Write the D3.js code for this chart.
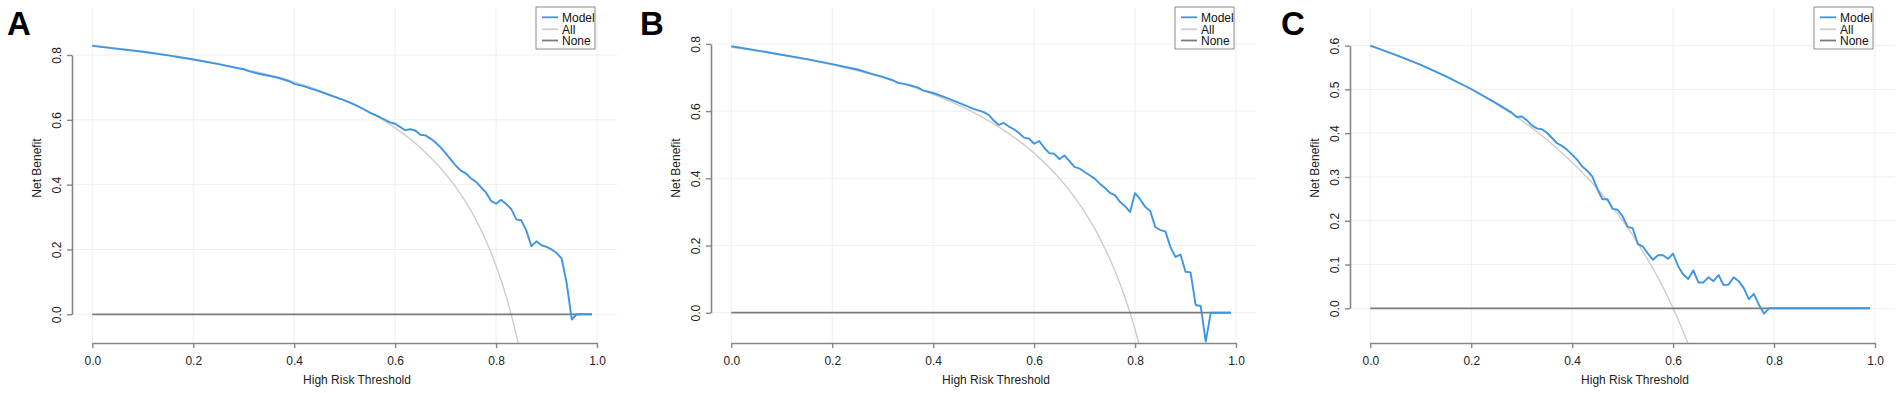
<!DOCTYPE html>
<html>
<head>
<meta charset="utf-8">
<script src="https://cdn.jsdelivr.net/npm/d3@7"></script>
<style>
  body { margin: 0; background: #fff; }
  svg { display: block; font-family: "Liberation Sans", Arial, sans-serif; }
</style>
</head>
<body>
<svg id="chart" width="1902" height="393"></svg>
<script>
// ---- data ----
const xTicks = [0, 0.2, 0.4, 0.6, 0.8, 1.0];
const yTicksAB = [0, 0.2, 0.4, 0.6, 0.8];
const yTicksC = [0, 0.1, 0.2, 0.3, 0.4, 0.5, 0.6];
const legendLabels = ["Model", "All", "None"];
const panelLabels = ["A", "B", "C"];

// treat none: flat line at 0
const noneThr = [0, 0.99];
const noneVals = [0, 0];

// panel A
const thrA = [0, 0.05, 0.1, 0.15, 0.2, 0.25, 0.28, 0.3, 0.31, 0.33, 0.35, 0.37, 0.39, 0.4, 0.42, 0.45, 0.48, 0.5, 0.52, 0.54, 0.55, 0.57, 0.59,
  0.6, 0.61, 0.62, 0.63, 0.64, 0.65, 0.66, 0.67, 0.68, 0.69, 0.7, 0.71, 0.72, 0.73, 0.74, 0.75, 0.76, 0.77, 0.78, 0.79,
  0.8, 0.81, 0.82, 0.83, 0.84, 0.85, 0.86, 0.87, 0.88, 0.89, 0.9, 0.91, 0.92, 0.93, 0.94, 0.95, 0.96, 0.97, 0.98, 0.99];
const modelA = [0.828, 0.819, 0.810, 0.799, 0.786, 0.772, 0.762, 0.756, 0.750, 0.742, 0.736, 0.729, 0.719, 0.711, 0.703, 0.688, 0.671, 0.660, 0.647, 0.631, 0.622, 0.608, 0.592,
  0.588, 0.578, 0.568, 0.571, 0.567, 0.554, 0.552, 0.542, 0.530, 0.515, 0.497, 0.478, 0.459, 0.443, 0.435, 0.420, 0.409, 0.392, 0.376, 0.350,
  0.341, 0.353, 0.340, 0.325, 0.293, 0.290, 0.258, 0.210, 0.225, 0.213, 0.208, 0.200, 0.189, 0.172, 0.095, -0.016, 0, 0, 0, 0];
const allThrA = [0, 0.1, 0.2, 0.3, 0.4, 0.45, 0.5, 0.55, 0.6, 0.65, 0.7, 0.72, 0.74, 0.76, 0.78, 0.8, 0.82, 0.84, 0.86];
const allA = [0.83, 0.811, 0.788, 0.757, 0.717, 0.691, 0.66, 0.622, 0.575, 0.514, 0.433, 0.393, 0.346, 0.292, 0.227, 0.15, 0.056, -0.063, -0.214];

// panel B
const thrB = [0, 0.05, 0.1, 0.15, 0.2, 0.25, 0.28, 0.3, 0.32, 0.33, 0.35, 0.37, 0.38, 0.4, 0.42, 0.45, 0.48,
  0.5, 0.51, 0.52, 0.53, 0.54, 0.55, 0.56, 0.57, 0.58, 0.59, 0.6, 0.61, 0.62, 0.63, 0.64, 0.65, 0.66, 0.67, 0.68, 0.69,
  0.7, 0.71, 0.72, 0.73, 0.74, 0.75, 0.76, 0.77, 0.78, 0.79, 0.8, 0.81, 0.82, 0.83, 0.84, 0.85, 0.86, 0.87, 0.88, 0.89,
  0.9, 0.91, 0.92, 0.93, 0.94, 0.95, 0.96, 0.97, 0.98, 0.99];
const modelB = [0.793, 0.781, 0.768, 0.755, 0.740, 0.724, 0.710, 0.702, 0.692, 0.684, 0.679, 0.670, 0.662, 0.654, 0.643, 0.625, 0.607,
  0.597, 0.589, 0.572, 0.559, 0.565, 0.554, 0.546, 0.535, 0.521, 0.518, 0.503, 0.511, 0.491, 0.475, 0.473, 0.457, 0.468, 0.451, 0.434, 0.429,
  0.419, 0.409, 0.399, 0.384, 0.372, 0.357, 0.350, 0.330, 0.317, 0.300, 0.356, 0.338, 0.315, 0.303, 0.255, 0.246, 0.242, 0.196, 0.166, 0.173,
  0.122, 0.120, 0.023, 0.020, -0.086, 0, 0, 0, 0, 0];
const allThrB = [0, 0.1, 0.2, 0.3, 0.4, 0.45, 0.5, 0.55, 0.6, 0.65, 0.68, 0.7, 0.72, 0.74, 0.76, 0.78, 0.8, 0.82];
const allB = [0.79, 0.767, 0.738, 0.70, 0.65, 0.618, 0.58, 0.533, 0.475, 0.40, 0.344, 0.30, 0.25, 0.192, 0.125, 0.046, -0.05, -0.167];

// panel C
const thrC = [0, 0.05, 0.1, 0.15, 0.2, 0.25, 0.28,
  0.29, 0.3, 0.31, 0.32, 0.33, 0.34, 0.35, 0.36, 0.37, 0.38, 0.39, 0.4, 0.41, 0.42, 0.43, 0.44, 0.45, 0.46, 0.47, 0.48, 0.49,
  0.5, 0.51, 0.52, 0.53, 0.54, 0.55, 0.56, 0.57, 0.58, 0.59, 0.6, 0.61, 0.62, 0.63, 0.64, 0.65, 0.66, 0.67, 0.68, 0.69,
  0.7, 0.71, 0.72, 0.73, 0.74, 0.75, 0.76, 0.77, 0.78, 0.79, 0.8, 0.81, 0.82, 0.83, 0.84, 0.85, 0.86, 0.87, 0.88, 0.89,
  0.9, 0.91, 0.92, 0.93, 0.94, 0.95, 0.96, 0.97, 0.98, 0.99];
const modelC = [0.600, 0.579, 0.556, 0.530, 0.501, 0.468, 0.447,
  0.437, 0.438, 0.430, 0.418, 0.411, 0.409, 0.401, 0.389, 0.377, 0.371, 0.362, 0.351, 0.339, 0.324, 0.314, 0.301, 0.272, 0.249, 0.249, 0.227, 0.225,
  0.210, 0.186, 0.183, 0.147, 0.141, 0.125, 0.111, 0.121, 0.121, 0.113, 0.125, 0.096, 0.077, 0.067, 0.087, 0.059, 0.059, 0.071, 0.062, 0.076,
  0.053, 0.054, 0.071, 0.062, 0.046, 0.021, 0.033, 0.008, -0.012, 0, 0, 0, 0, 0, 0, 0, 0, 0, 0, 0,
  0, 0, 0, 0, 0, 0, 0, 0, 0, 0];
const allThrC = [0, 0.1, 0.2, 0.3, 0.35, 0.4, 0.45, 0.5, 0.52, 0.54, 0.56, 0.58, 0.6, 0.62, 0.64];
const allC = [0.6, 0.556, 0.5, 0.429, 0.385, 0.333, 0.273, 0.2, 0.167, 0.13, 0.091, 0.048, 0, -0.053, -0.111];

// ---- styling / layout ----
const colorModel = "#3f95e3";
const colorAll = "#cdcdcd";
const colorNone = "#7b7b7b";
const colorAxis = "#868686";
const colorGrid = "#efefef";

const panels = [
  {label: panelLabels[0], thr: thrA, model: modelA, allThr: allThrA, all: allA, yTicks: yTicksAB, yDomain: [-0.0886, 0.945], dx: 0, labelX: 7},
  {label: panelLabels[1], thr: thrB, model: modelB, allThr: allThrB, all: allB, yTicks: yTicksAB, yDomain: [-0.0902, 0.907], dx: 639, labelX: 1},
  {label: panelLabels[2], thr: thrC, model: modelC, allThr: allThrC, all: allC, yTicks: yTicksC, yDomain: [-0.0793, 0.686], dx: 1278, labelX: 3}
];

// plot region (same in every panel)
const regionLeft = 72, regionRight = 617, regionTop = 8, regionBottom = 343;

const svg = d3.select("#chart");

panels.forEach((p, i) => {
    const g = svg.append("g").attr("transform", `translate(${p.dx},0)`);

    const x = d3.scaleLinear().domain([0, 1]).range([92.3, 597]);
    const y = d3.scaleLinear().domain(p.yDomain).range([regionBottom, regionTop]);

    // clip
    const clipId = "clip" + i;
    g.append("clipPath").attr("id", clipId)
        .append("rect")
        .attr("x", regionLeft).attr("y", regionTop)
        .attr("width", regionRight - regionLeft).attr("height", regionBottom - regionTop);

    // grid
    g.append("g").selectAll("line").data(xTicks).join("line")
        .attr("x1", d => x(d)).attr("x2", d => x(d))
        .attr("y1", regionTop).attr("y2", regionBottom)
        .attr("stroke", colorGrid).attr("stroke-width", 1);
    g.append("g").selectAll("line").data(p.yTicks).join("line")
        .attr("x1", regionLeft).attr("x2", regionRight)
        .attr("y1", d => y(d)).attr("y2", d => y(d))
        .attr("stroke", colorGrid).attr("stroke-width", 1);

    // lines
    const plot = g.append("g").attr("clip-path", `url(#${clipId})`);
    const allLine = d3.line().x((d, j) => x(p.allThr[j])).y(d => y(d)).curve(d3.curveMonotoneX);
    const stepLine = thr => d3.line().x((d, j) => x(thr[j])).y(d => y(d));

    plot.append("path").datum(p.all)
        .attr("fill", "none").attr("stroke", colorAll).attr("stroke-width", 1.4)
        .attr("d", allLine);
    plot.append("path").datum(noneVals)
        .attr("fill", "none").attr("stroke", colorNone).attr("stroke-width", 1.8)
        .attr("d", stepLine(noneThr));
    plot.append("path").datum(p.model)
        .attr("fill", "none").attr("stroke", colorModel).attr("stroke-width", 1.9)
        .attr("stroke-linejoin", "round")
        .attr("d", stepLine(p.thr));

    // axes (R style: axis line only between first and last tick)
    const xAxis = d3.axisBottom(x).tickValues(xTicks).tickFormat(d3.format(".1f"))
        .tickSize(5).tickSizeOuter(0).tickPadding(8);
    const gx = g.append("g").attr("transform", `translate(0,${regionBottom})`).call(xAxis);

    const yMax = d3.max(p.yTicks);
    const yAxisScale = d3.scaleLinear().domain([0, yMax]).range([y(0), y(yMax)]);
    const yAxis = d3.axisLeft(yAxisScale).tickValues(p.yTicks).tickFormat(d3.format(".1f"))
        .tickSize(5).tickSizeOuter(0);
    const gy = g.append("g").attr("transform", `translate(${regionLeft},0)`).call(yAxis);
    gy.selectAll("text")
        .attr("transform", "rotate(-90)")
        .attr("x", 0).attr("y", -11).attr("dy", null)
        .style("text-anchor", "middle");

    [gx, gy].forEach(a => {
        a.select(".domain").attr("stroke", colorAxis).attr("stroke-width", 1.6);
        a.selectAll(".tick line").attr("stroke", colorAxis).attr("stroke-width", 1.4);
        a.selectAll("text").attr("fill", "#222").style("font-size", "12px")
            .style("font-family", '"Liberation Sans", Arial, sans-serif');
    });

    // axis titles
    g.append("text")
        .attr("transform", "translate(37,168) rotate(-90)")
        .attr("dy", "0.35em")
        .attr("text-anchor", "middle")
        .style("font-size", "12px").attr("fill", "#222")
        .text("Net Benefit");
    g.append("text")
        .attr("x", 357).attr("y", 384)
        .attr("text-anchor", "middle")
        .style("font-size", "12px").attr("fill", "#222")
        .text("High Risk Threshold");

    // panel letter
    g.append("text")
        .attr("x", p.labelX).attr("y", 35)
        .style("font-size", "33px").style("font-weight", "bold")
        .attr("fill", "#000")
        .text(p.label);

    // legend
    const lg = g.append("g").attr("transform", "translate(536,7)");
    lg.append("rect").attr("width", 59).attr("height", 42)
        .attr("fill", "#fff").attr("stroke", "#8a8a8a").attr("stroke-width", 1);
    const legendColors = [colorModel, colorAll, colorNone];
    const rowY = [10.3, 22.3, 33.5];
    legendLabels.forEach((name, k) => {
        lg.append("line")
            .attr("x1", 6).attr("x2", 22)
            .attr("y1", rowY[k]).attr("y2", rowY[k])
            .attr("stroke", legendColors[k]).attr("stroke-width", 1.8);
        lg.append("text")
            .attr("x", 26).attr("y", rowY[k] + 4.3)
            .style("font-size", "12px").attr("fill", "#111")
            .text(name);
    });
});
</script>
</body>
</html>
